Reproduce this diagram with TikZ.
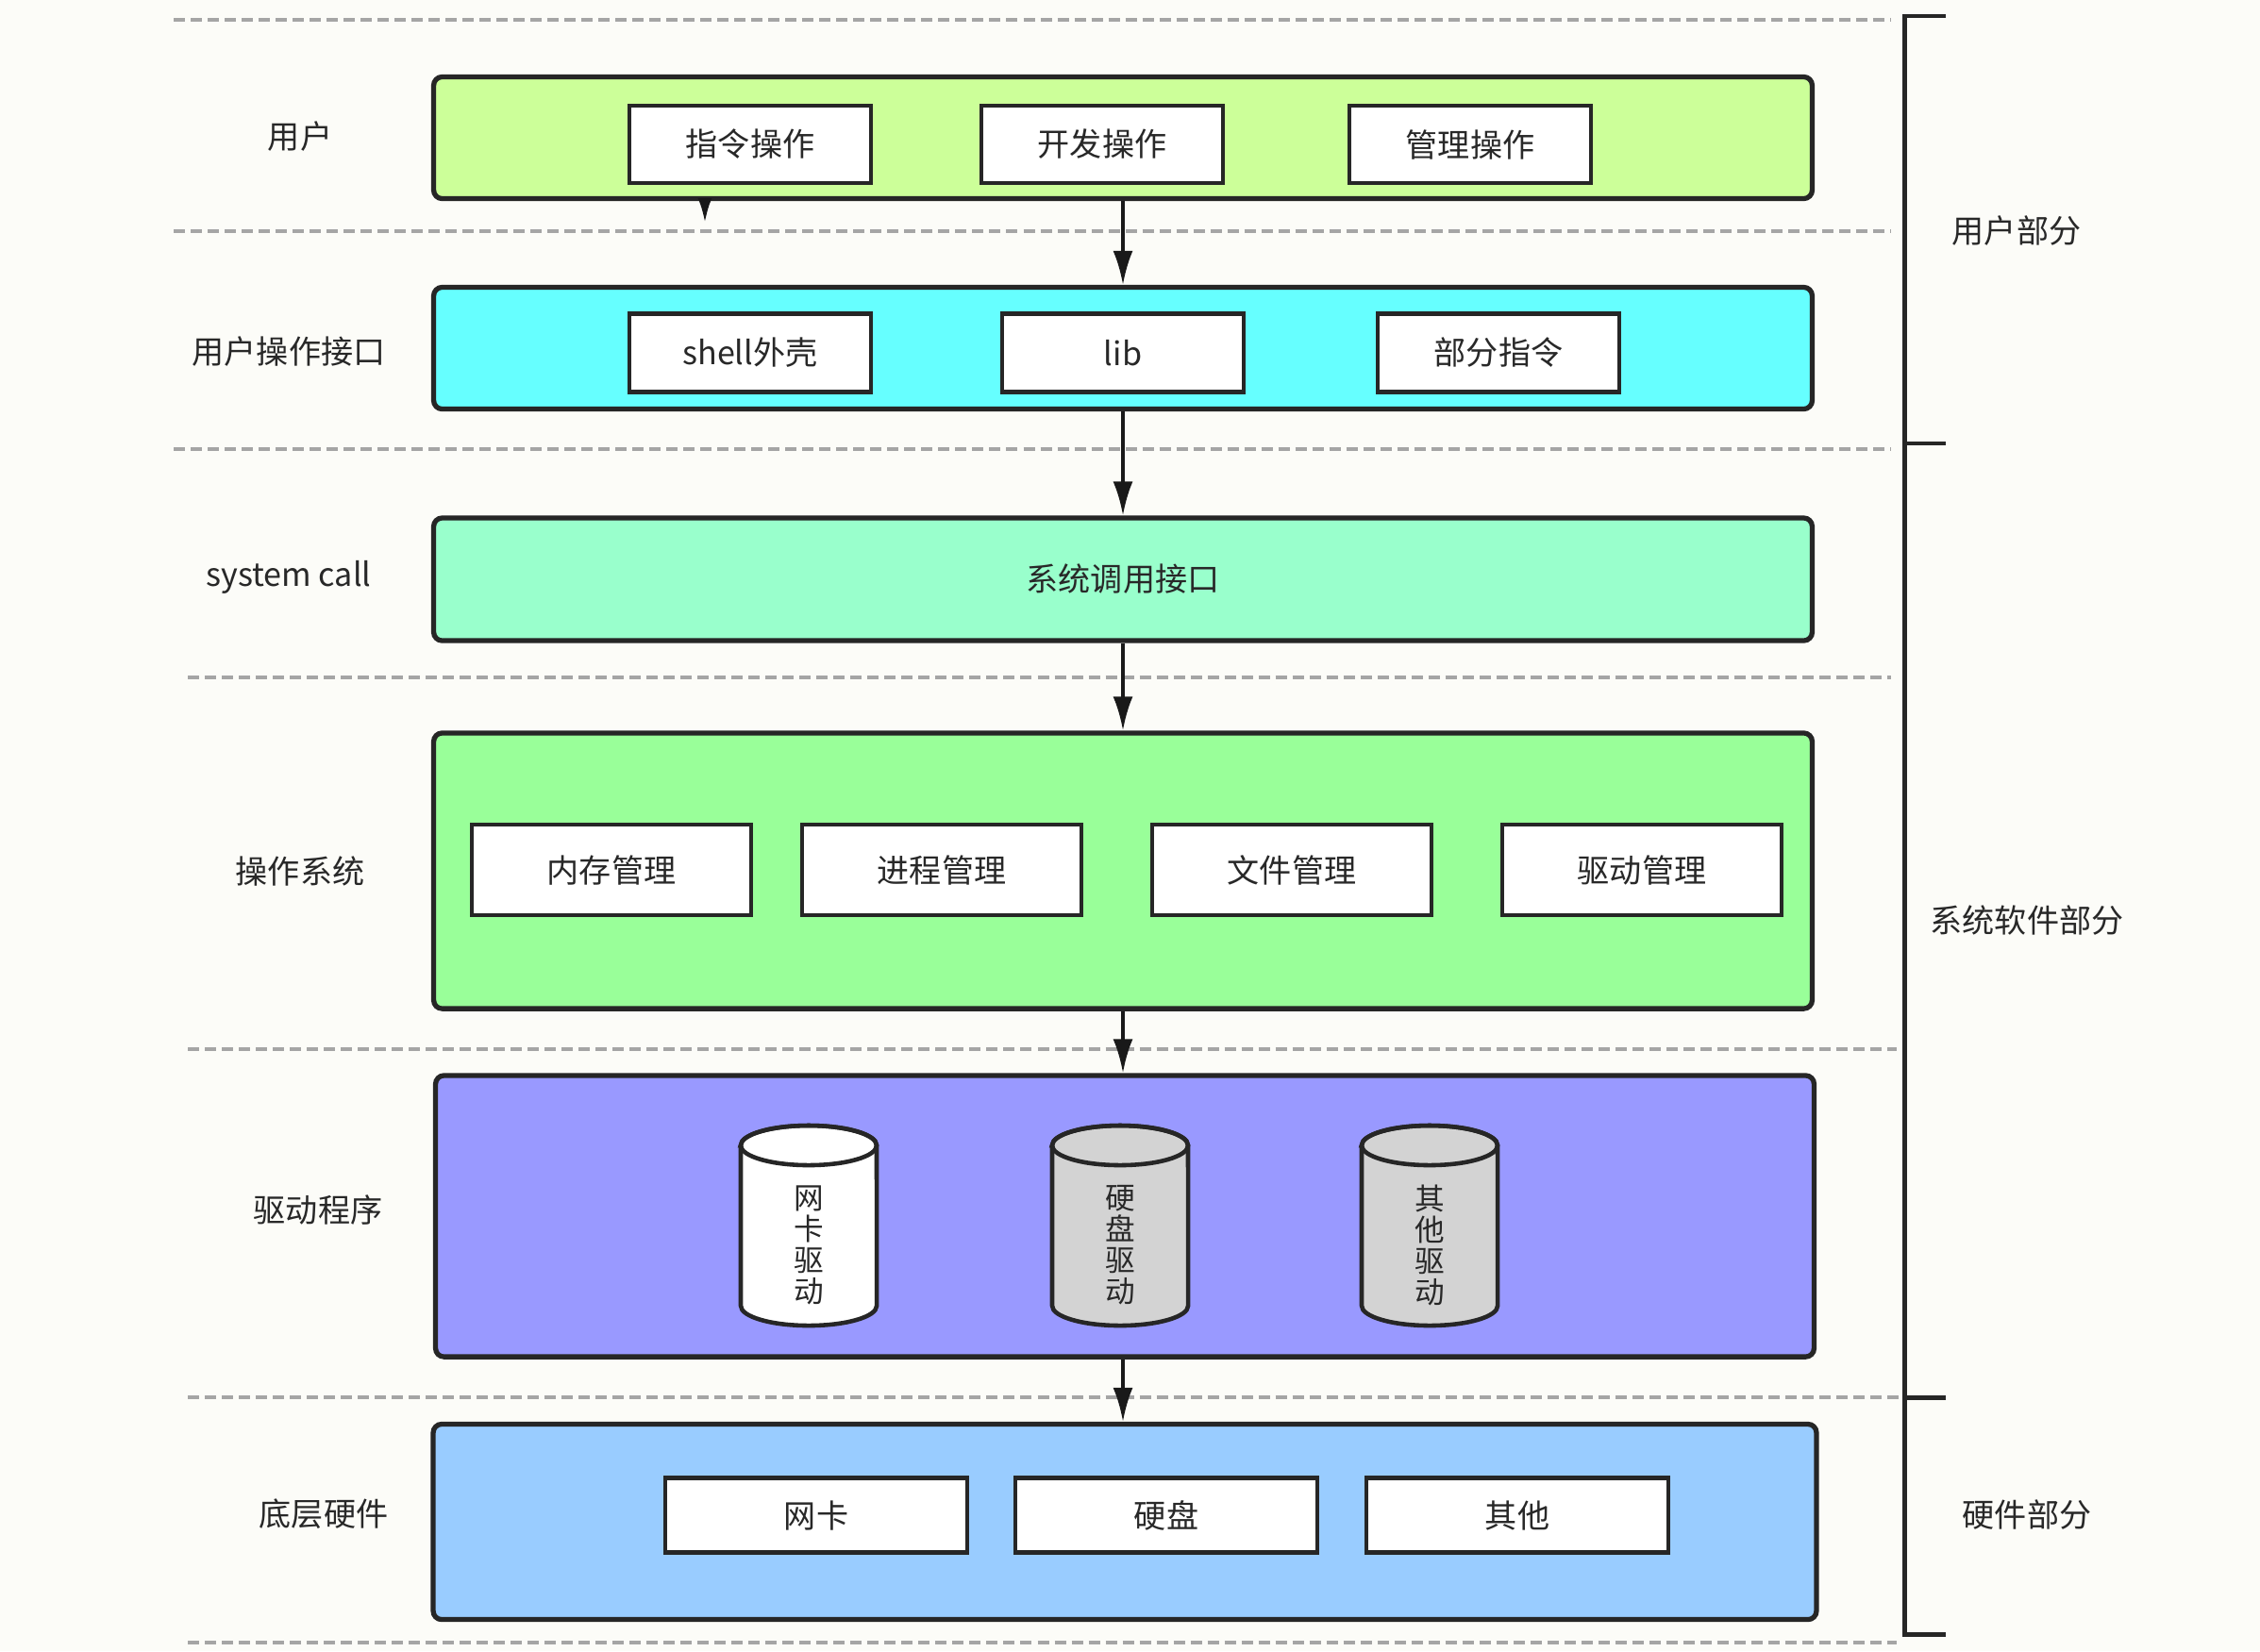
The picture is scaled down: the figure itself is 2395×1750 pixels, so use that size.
\documentclass[tikz,border=0pt]{standalone}
\usepackage{fontspec}
\setmainfont{Noto Sans CJK SC}
\usetikzlibrary{arrows.meta}
\definecolor{bg}{RGB}{252,252,248}
\definecolor{txt}{RGB}{40,40,40}
\definecolor{cgreen}{RGB}{204,255,153}
\definecolor{ccyan}{RGB}{102,255,255}
\definecolor{cmint}{RGB}{153,255,204}
\definecolor{cos}{RGB}{153,255,153}
\definecolor{cdrv}{RGB}{153,153,255}
\definecolor{chw}{RGB}{153,204,255}
\definecolor{cgray}{RGB}{211,211,211}
\definecolor{sepgray}{RGB}{165,165,165}
\newcommand\fs{\fontsize{9.7pt}{11pt}\selectfont}
\newcommand\drawcyl[4]{%
  \draw[cylline, fill=#2] (#1-72,1214) -- (#1-72,1384)
     arc[start angle=180,end angle=360,x radius=0.72cm,y radius=0.21cm]
     -- (#1+72,1214)
     arc[start angle=0,end angle=180,x radius=0.72cm,y radius=0.21cm] -- cycle;
  \draw[cylline] (#1,1214) ellipse[x radius=0.72cm,y radius=0.21cm];
  \node[cyltext] (#3) at (#1,1320) {#4};
}
\tikzset{
  layer/.style={draw=black!85, line width=1.5pt, rounded corners=0.09cm, inner sep=0pt, text=txt, font=\fs},
  item/.style={draw=black!85, line width=1.3pt, fill=white, inner sep=0pt, text=txt, font=\fs},
  lab/.style={text=txt, font=\fs, inner sep=0pt},
  arr/.style={-{Latex[length=0.36cm,width=0.21cm]}, line width=1pt, draw=black!90},
  stubarr/.style={-{Latex[length=0.26cm,width=0.15cm]}, line width=1pt, draw=black!90},
  sep/.style={draw=sepgray, dash pattern=on 0.12cm off 0.06cm, line width=1.2pt},
  brk/.style={draw=black!85, line width=1.4pt},
  cylline/.style={draw=black!85, line width=1.3pt},
  cyltext/.style={text=txt, align=center, inner sep=0pt, font=\fontsize{9pt}{9.4pt}\selectfont}
}
\begin{document}
\begin{tikzpicture}[x=0.01cm,y=-0.01cm]
\fill[bg] (0,0) rectangle (2395,1750);
\useasboundingbox (0,0) rectangle (2395,1750);

% separators
\draw[sep] (184,21) -- (2004,21);
\draw[sep] (184,245) -- (2004,245);
\draw[sep] (184,476) -- (2004,476);
\draw[sep] (199,718) -- (2004,718);
\draw[sep] (199,1112) -- (2010,1112);
\draw[sep] (199,1481) -- (2018,1481);
\draw[sep] (199,1741) -- (2010,1741);

% layers
\node[layer, fill=cgreen, minimum width=14.6cm, minimum height=1.29cm] (user) at (1190,146) {};
\node[item, minimum width=2.56cm, minimum height=0.82cm] (op1) at (795,153) {指令操作};
\node[item, minimum width=2.56cm, minimum height=0.82cm] (op2) at (1168,153) {开发操作};
\node[item, minimum width=2.56cm, minimum height=0.82cm] (op3) at (1558,153) {管理操作};

\node[layer, fill=ccyan, minimum width=14.6cm, minimum height=1.29cm] (uif) at (1190,369) {};
\node[item, minimum width=2.56cm, minimum height=0.83cm] (if1) at (795,374) {shell外壳};
\node[item, minimum width=2.56cm, minimum height=0.83cm] (if2) at (1190,374) {lib};
\node[item, minimum width=2.56cm, minimum height=0.83cm] (if3) at (1588,374) {部分指令};

\node[layer, fill=cmint, minimum width=14.6cm, minimum height=1.30cm] (sys) at (1190,614) {系统调用接口};

\node[layer, fill=cos, minimum width=14.6cm, minimum height=2.92cm] (os) at (1190,923) {};
\node[item, minimum width=2.96cm, minimum height=0.96cm] (os1) at (648,922) {内存管理};
\node[item, minimum width=2.96cm, minimum height=0.96cm] (os2) at (998,922) {进程管理};
\node[item, minimum width=2.96cm, minimum height=0.96cm] (os3) at (1369,922) {文件管理};
\node[item, minimum width=2.96cm, minimum height=0.96cm] (os4) at (1740,922) {驱动管理};

\node[layer, fill=cdrv, minimum width=14.6cm, minimum height=2.98cm] (drv) at (1192,1289) {};
\drawcyl{857}{white}{cyl1}{网\\卡\\驱\\动}
\drawcyl{1187}{cgray}{cyl2}{硬\\盘\\驱\\动}
\drawcyl{1515}{cgray}{cyl3}{其\\他\\驱\\动}

\node[layer, fill=chw, minimum width=14.65cm, minimum height=2.07cm] (hw) at (1192,1613) {};
\node[item, minimum width=3.2cm, minimum height=0.79cm] (hw1) at (865,1606) {网卡};
\node[item, minimum width=3.2cm, minimum height=0.79cm] (hw2) at (1236,1606) {硬盘};
\node[item, minimum width=3.2cm, minimum height=0.79cm] (hw3) at (1608,1606) {其他};

% arrows
\coordinate (stub) at (747,236);
\draw[stubarr] (user.south -| stub) -- (stub);
\draw[arr] (user.south) -- (uif.north);
\draw[arr] (uif.south) -- (sys.north);
\draw[arr] (sys.south) -- (os.north);
\draw[arr] (os.south) -- (os.south |- drv.north);
\draw[arr] (drv.south -| os.south) -- (os.south |- hw.north);

% left labels
\node[lab] (l1) at (318,145) {用户};
\node[lab] (l2) at (306,373) {用户操作接口};
\node[lab] (l3) at (306,612) {system call};
\node[lab] (l4) at (318,923) {操作系统};
\node[lab] (l5) at (337,1282) {驱动程序};
\node[lab] (l6) at (343,1605) {底层硬件};

% right bracket
\draw[brk] (2062,17) -- (2018,17) -- (2018,1732) -- (2062,1732);
\draw[brk] (2018,470) -- (2062,470);
\draw[brk] (2018,1481) -- (2062,1481);
\node[lab] (r1) at (2137,245) {用户部分};
\node[lab] (r2) at (2148,975) {系统软件部分};
\node[lab] (r3) at (2148,1605) {硬件部分};
\end{tikzpicture}
\end{document}
